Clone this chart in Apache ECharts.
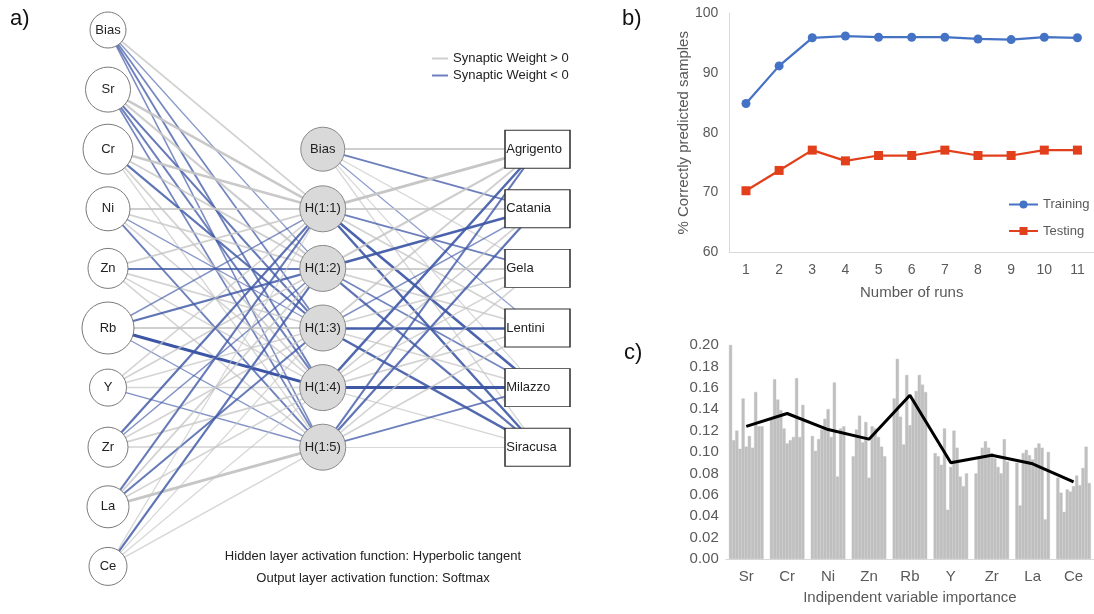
<!DOCTYPE html>
<html><head><meta charset="utf-8">
<script src="https://cdn.jsdelivr.net/npm/echarts@6/dist/echarts.min.js"></script>
<style>html,body{margin:0;padding:0;background:#fff}#c{width:1094px;height:614px}</style>
</head><body><div id="c"></div>
<script>
// ---------- panel a: network ----------
const inputNodes = ['Bias','Sr','Cr','Ni','Zn','Rb','Y','Zr','La','Ce'];
const inputSizes = [36,45,50,44,40,52,37,40,42,38];
const hiddenNodes = ['Bias','H(1:1)','H(1:2)','H(1:3)','H(1:4)','H(1:5)'];
const outputNodes = ['Agrigento','Catania','Gela','Lentini','Milazzo','Siracusa'];
// synaptic weights input -> hidden (columns H(1:1)..H(1:5))
const wInHidden = [
  [ 0.35,-0.30,-0.45,-0.50,-0.40],
  [ 0.60, 0.45,-0.55,-0.50,-0.45],
  [ 0.60, 0.40,-0.60, 0.35, 0.25],
  [ 0.45, 0.35,-0.30, 0.30,-0.50],
  [ 0.40,-0.55, 0.35, 0.30, 0.30],
  [-0.35,-0.60, 0.45,-0.90,-0.30],
  [ 0.30, 0.35, 0.30, 0.25,-0.35],
  [-0.60,-0.35, 0.30, 0.35, 0.35],
  [-0.55, 0.35,-0.55, 0.30, 0.70],
  [ 0.20,-0.60, 0.20, 0.20, 0.25]
];
// synaptic weights hidden -> output
const wHiddenOut = [
  [ 0.45,-0.50, 0.20,-0.25, 0.20, 0.25],
  [ 0.70, 0.45,-0.50, 0.35,-0.75,-0.70],
  [ 0.50,-0.75, 0.40, 0.35,-0.45,-0.60],
  [ 0.40,-0.35, 0.35,-0.80, 0.30,-0.70],
  [-0.70, 0.35, 0.30, 0.35,-0.85, 0.25],
  [-0.55,-0.60, 0.30, 0.35,-0.50, 0.20]
];
const legendLabels = ['Synaptic Weight > 0','Synaptic Weight < 0'];
const noteLines = ['Hidden layer activation function: Hyperbolic tangent','Output layer activation function: Softmax'];

// ---------- panel b ----------
const runs = ['1','2','3','4','5','6','7','8','9','10','11'];
const training = [84.9,91.2,95.9,96.2,96.0,96.0,96.0,95.7,95.6,96.0,95.9];
const testing  = [70.3,73.7,77.1,75.3,76.2,76.2,77.1,76.2,76.2,77.1,77.1];

// ---------- panel c ----------
const variables = ['Sr','Cr','Ni','Zn','Rb','Y','Zr','La','Ce'];
const impSr = [0.200,0.111,0.120,0.103,0.150,0.105,0.115,0.104,0.156,0.124,0.124];
const impCr = [0.131,0.168,0.149,0.139,0.122,0.108,0.111,0.114,0.169,0.114,0.144];
const impNi = [0.115,0.101,0.112,0.121,0.131,0.140,0.114,0.165,0.077,0.122,0.124];
const impZn = [0.096,0.121,0.134,0.109,0.128,0.076,0.124,0.122,0.114,0.105,0.096];
const impRb = [0.150,0.187,0.133,0.107,0.172,0.125,0.150,0.157,0.172,0.163,0.156];
const impY  = [0.099,0.096,0.088,0.122,0.046,0.086,0.120,0.104,0.077,0.068,0.080];
const impZr = [0.080,0.096,0.104,0.110,0.104,0.099,0.094,0.086,0.080,0.112,0.091];
const impLa = [0.090,0.050,0.099,0.102,0.097,0.093,0.104,0.108,0.104,0.037,0.100];
const impCe = [0.076,0.062,0.044,0.065,0.063,0.068,0.078,0.069,0.085,0.105,0.071];
const meanImportance = [0.124,0.136,0.121,0.112,0.153,0.090,0.097,0.089,0.072];

const FONT = 'Liberation Sans, Arial, sans-serif';
const POS = '#c4c4c4', NEG = '#3c56a5';

// build graph nodes
const nodes = [];
inputNodes.forEach((n,i)=>nodes.push({name:'in'+i, value:[0,i], symbol:'circle', symbolSize:inputSizes[i],
  itemStyle:{color:'#fff',borderColor:'#7a7a7a',borderWidth:1}, label:{formatter:n}}));
hiddenNodes.forEach((n,j)=>nodes.push({name:'hid'+j, value:[1,j+2], symbol:'circle', symbolSize:j===0?44:46,
  itemStyle:{color:'#d9d9d9',borderColor:'#8a8a8a',borderWidth:1}, label:{formatter:n}}));
outputNodes.forEach((n,k)=>nodes.push({name:'out'+k, value:[2,k+2], symbol:'rect', symbolSize:[65,38],
  itemStyle:{color:'#fff',borderColor:'#333',borderWidth:1.2}, label:{formatter:n, position:'insideLeft', distance:2}}));
function linkStyle(w){
  const a = Math.abs(w);
  return w>0
    ? {color: POS, width: 0.6+3.2*a, opacity: Math.min(1,0.55+0.6*a), curveness:0}
    : {color: NEG, width: 0.5+2.8*a, opacity: Math.min(1,0.4+0.7*a), curveness:0};
}
const links = [];
wInHidden.forEach((row,i)=>row.forEach((w,j)=>links.push({source:'in'+i, target:'hid'+(j+1), lineStyle:linkStyle(w)})));
wHiddenOut.forEach((row,j)=>row.forEach((w,k)=>links.push({source:'hid'+j, target:'out'+k, lineStyle:linkStyle(w)})));

const impByVar = [impSr,impCr,impNi,impZn,impRb,impY,impZr,impLa,impCe];
const barSeries = runs.map((r,k)=>({
  type:'bar', xAxisIndex:2, yAxisIndex:2, barGap:'0%', barCategoryGap:'15.5%',
  data: impByVar.map(v=>v[k]), itemStyle:{color:'#bfbfbf', borderColor:'#bfbfbf', borderWidth:0.4}, silent:true, animation:false
}));

const chart = echarts.init(document.getElementById('c'), null, {renderer:'canvas'});
chart.setOption({
  animation:false,
  backgroundColor:'#fff',
  textStyle:{fontFamily:FONT},
  grid:[
    {left:108, right:556.5, top:30, bottom:47.6},
    {left:729.4, right:-0.6, top:13.3, bottom:361.7},
    {left:725.8, right:-4.4, top:345, bottom:55}
  ],
  xAxis:[
    {type:'value', gridIndex:0, min:0, max:2, show:false},
    {type:'category', gridIndex:1, data:runs, boundaryGap:true,
      axisLine:{lineStyle:{color:'#d9d9d9'}}, axisTick:{show:false},
      axisLabel:{color:'#595959', fontSize:14, margin:11},
      name:'Number of runs', nameLocation:'middle', nameGap:33,
      nameTextStyle:{color:'#595959', fontSize:15}},
    {type:'category', gridIndex:2, data:variables,
      axisLine:{lineStyle:{color:'#d9d9d9'}}, axisTick:{show:false},
      axisLabel:{color:'#595959', fontSize:15, margin:10},
      name:'Indipendent variable importance', nameLocation:'middle', nameGap:31,
      nameTextStyle:{color:'#595959', fontSize:15}}
  ],
  yAxis:[
    {type:'value', gridIndex:0, min:0, max:9, inverse:true, show:false},
    {type:'value', gridIndex:1, min:60, max:100, interval:10,
      axisLine:{show:true, lineStyle:{color:'#d9d9d9'}}, axisTick:{show:false}, splitLine:{show:false},
      axisLabel:{color:'#595959', fontSize:14, margin:11},
      name:'% Correctly predicted samples', nameLocation:'middle', nameGap:38,
      nameTextStyle:{color:'#595959', fontSize:15}},
    {type:'value', gridIndex:2, min:0, max:0.2, interval:0.02,
      axisLine:{show:false}, axisTick:{show:false}, splitLine:{show:false},
      axisLabel:{color:'#595959', fontSize:15, margin:7, formatter:v=>v.toFixed(2)}}
  ],
  legend:[
    {data:legendLabels, orient:'vertical', left:427, top:47, itemWidth:16, itemHeight:2, itemGap:4,
      icon:'rect', selectedMode:false, textStyle:{fontSize:13, color:'#222', lineHeight:13}},
    {data:['Training','Testing'], orient:'vertical', left:1003, top:193, itemWidth:29, itemHeight:10, itemGap:13.5,
      selectedMode:false, textStyle:{fontSize:13, color:'#595959'}}
  ],
  graphic:[
    {type:'text', left:10, top:8, style:{text:'a)', font:'22px '+FONT, fill:'#111'}},
    {type:'text', left:622, top:8, style:{text:'b)', font:'22px '+FONT, fill:'#111'}},
    {type:'text', left:624, top:342, style:{text:'c)', font:'22px '+FONT, fill:'#111'}},
    {type:'text', x:373, y:556, style:{text:noteLines[0], font:'13px '+FONT, fill:'#222', textAlign:'center', textVerticalAlign:'middle'}},
    {type:'text', x:373, y:578, style:{text:noteLines[1], font:'13px '+FONT, fill:'#222', textAlign:'center', textVerticalAlign:'middle'}}
  ],
  series:[
    {name:legendLabels[0], type:'line', xAxisIndex:0, yAxisIndex:0, data:[], itemStyle:{color:'#cfcfcf'}},
    {name:legendLabels[1], type:'line', xAxisIndex:0, yAxisIndex:0, data:[], itemStyle:{color:'#6d7fbf'}},
    {type:'graph', coordinateSystem:'cartesian2d', xAxisIndex:0, yAxisIndex:0, layout:'none',
      data:nodes, links:links, edgeSymbol:['none','none'], silent:true,
      label:{show:true, position:'inside', fontSize:13, color:'#222', fontFamily:FONT},
      lineStyle:{curveness:0}},
    {name:'Training', type:'line', xAxisIndex:1, yAxisIndex:1, data:training,
      symbol:'circle', symbolSize:9, lineStyle:{width:2.25, color:'#4472c4'}, itemStyle:{color:'#4472c4'}},
    {name:'Testing', type:'line', xAxisIndex:1, yAxisIndex:1, data:testing,
      symbol:'rect', symbolSize:9, lineStyle:{width:2.25, color:'#e2401c'}, itemStyle:{color:'#e2401c'}},
    ...barSeries,
    {type:'line', xAxisIndex:2, yAxisIndex:2, data:meanImportance, symbol:'none', z:5,
      lineStyle:{width:3, color:'#000'}}
  ]
});
</script></body></html>
